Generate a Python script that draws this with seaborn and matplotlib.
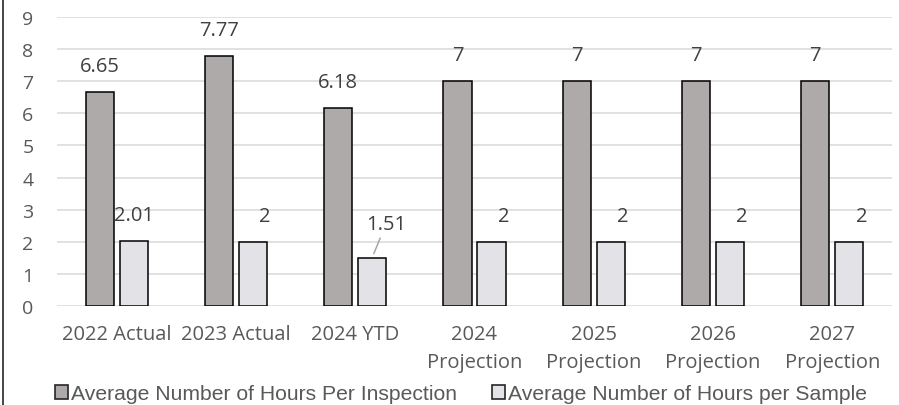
import matplotlib
matplotlib.use("Agg")
import matplotlib.pyplot as plt
import seaborn as sns
import pandas as pd
from matplotlib.lines import Line2D
from matplotlib.patches import Patch

categories = ["2022 Actual", "2023 Actual", "2024 YTD", "2024\nProjection",
              "2025\nProjection", "2026\nProjection", "2027\nProjection"]
series_names = ["Average Number of Hours Per Inspection",
                "Average Number of Hours per Sample"]
hours_per_inspection = [6.65, 7.77, 6.18, 7, 7, 7, 7]
hours_per_sample = [2.01, 2, 1.51, 2, 2, 2, 2]
y_ticks = [0, 1, 2, 3, 4, 5, 6, 7, 8, 9]

df = pd.DataFrame({
    "category": categories * 2,
    "series": [series_names[0]] * len(categories) + [series_names[1]] * len(categories),
    "value": hours_per_inspection + hours_per_sample,
})

sns.set_theme(style="white")
plt.rcParams["font.family"] = ["Open Sans", "DejaVu Sans"]

W, H = 899, 406
fig = plt.figure(figsize=(W / 100, H / 100), dpi=100)
ax = fig.add_axes([57 / W, 1 - 307 / H, (892 - 57) / W, (307 - 18) / H])

colors = ["#AEAAAA", "#E3E3E7"]
sns.barplot(data=df, x="category", y="value", hue="series", order=categories,
            hue_order=series_names, palette=colors, width=0.57, gap=0.175,
            edgecolor="black", linewidth=1.1, saturation=1, ax=ax, legend=False,
            zorder=3)

ax.set_ylim(0, 9)
ax.set_xlim(-0.5, len(categories) - 0.5)
ax.set_yticks(y_ticks)
ax.yaxis.grid(True, color="#D9D9D9", linewidth=1.1, zorder=0)
ax.xaxis.grid(False)
for s in ax.spines.values():
    s.set_visible(False)
ax.set_xlabel("")
ax.set_ylabel("")
ax.tick_params(axis="y", length=0, pad=17, labelsize=14, labelcolor="#595959")
ax.tick_params(axis="x", length=0, pad=13, labelsize=14.5, labelcolor="#595959")
for t in ax.get_xticklabels():
    t.set_linespacing(1.5)
    t.set_verticalalignment("top")

px = 0.72  # points per pixel at 100 dpi
for ci, cont in enumerate(ax.containers):
    for bi, bar in enumerate(cont.patches):
        v = bar.get_height()
        xc = bar.get_x() + bar.get_width() / 2
        label = f"{v:g}"
        if ci == 1 and bi == 2:
            ax.annotate(label, xy=(xc, v), xytext=(14 * px, 34 * px),
                        textcoords="offset points", ha="center", va="center",
                        fontsize=14.5, color="#404040",
                        arrowprops=dict(arrowstyle="-", color="#A6A6A6", lw=1.1,
                                        shrinkA=1, shrinkB=3))
            continue
        dx = 12 if (ci == 1 and label == "2") else 0
        ax.annotate(label, xy=(xc, v), xytext=(dx * px, 26 * px),
                    textcoords="offset points", ha="center", va="center",
                    fontsize=14.5, color="#404040")

handles = [Patch(facecolor=colors[0], edgecolor="#262626", linewidth=1.2),
           Patch(facecolor=colors[1], edgecolor="#262626", linewidth=1.2)]
fig.legend(handles, series_names, loc="center left",
           bbox_to_anchor=(55 / W, 1 - 395 / H), ncol=2, frameon=False,
           prop={"family": "Liberation Sans", "size": 15.2},
           labelcolor="#595959", handlelength=0.6, handleheight=0.6,
           handletextpad=0.15, columnspacing=1.67, borderaxespad=0, borderpad=0)

fig.add_artist(Line2D([3 / W, 3 / W], [0, 1], color="#262626", linewidth=1.2,
                      transform=fig.transFigure))

fig.savefig("out.png", dpi=100)
